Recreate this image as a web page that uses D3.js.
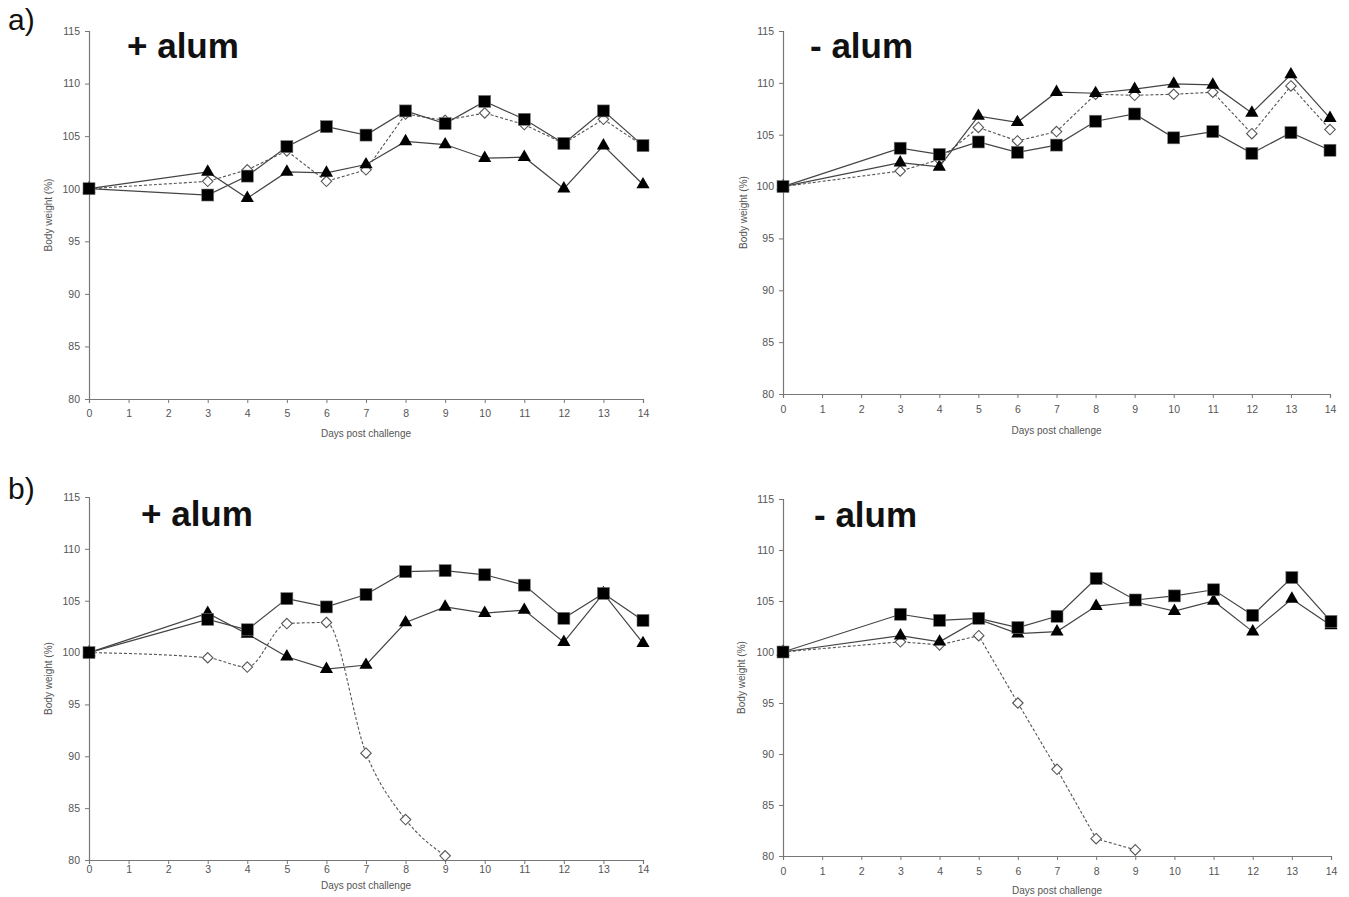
<!DOCTYPE html>
<html><head><meta charset="utf-8">
<script src="https://cdn.jsdelivr.net/npm/d3@7"></script>
<style>
body{margin:0;background:#fff;}
svg{display:block;}
.tick text{font-family:"Liberation Sans Narrow","Liberation Sans",Arial,sans-serif;font-size:10.5px;fill:#555;}
.tick line,.domain{stroke:#777;}
</style></head><body>
<svg id="c" width="1349" height="897"></svg>
<script>
const days = [0,3,4,5,6,7,8,9,10,11,12,13,14];
const daysShort = [0,3,4,5,6,7,8,9];
const xTicks = [0,1,2,3,4,5,6,7,8,9,10,11,12,13,14];
const yTicks = [80,85,90,95,100,105,110,115];

// a) + alum
const aPlusSquare  = [100,99.4,101.2,104.0,105.9,105.1,107.4,106.2,108.3,106.6,104.3,107.4,104.1];
const aPlusTri     = [100,101.6,99.1,101.6,101.5,102.3,104.5,104.2,102.9,103.0,100.0,104.1,100.4];
const aPlusDiamond = [100,100.7,101.8,103.6,100.7,101.8,107.1,106.5,107.2,106.1,104.3,106.6,104.1];
// a) - alum
const aMinusSquare  = [100,103.7,103.1,104.3,103.3,104.0,106.3,107.0,104.7,105.3,103.2,105.2,103.5];
const aMinusTri     = [100,102.3,101.9,106.8,106.2,109.1,109.0,109.4,109.9,109.8,107.1,110.8,106.6];
const aMinusDiamond = [100,101.5,102.6,105.7,104.4,105.3,108.9,108.8,108.9,109.1,105.1,109.7,105.5];
// b) + alum
const bPlusSquare  = [100,103.2,102.2,105.2,104.4,105.6,107.8,107.9,107.5,106.5,103.3,105.7,103.1];
const bPlusTri     = [100,103.8,101.8,99.6,98.4,98.8,102.9,104.4,103.8,104.1,101.0,105.7,100.9];
const bPlusDiamond = [100,99.5,98.6,102.8,102.9,90.3,83.9,80.4];
// b) - alum
const bMinusSquare  = [100,103.7,103.1,103.3,102.4,103.5,107.2,105.1,105.5,106.1,103.6,107.3,103.0];
const bMinusTri     = [100,101.6,101.0,103.2,101.8,102.0,104.5,104.9,104.0,105.0,102.0,105.2,102.6];
const bMinusDiamond = [100,101.0,100.7,101.6,95.0,88.5,81.7,80.6];

const panelTitles = ["+ alum","- alum","+ alum","- alum"];
const rowLabels = ["a)","b)"];

const svg = d3.select("#c");

const panels = [
  {x0:89,x1:643,yT:31,yB:399,pad:7,title:panelTitles[0],tx:127,ty:58,ylx:52,xly:437,
   sq:aPlusSquare,tr:aPlusTri,di:aPlusDiamond,diDays:days,smooth:false},
  {x0:783,x1:1330,yT:31,yB:394,pad:8,title:panelTitles[1],tx:810,ty:58,ylx:747,xly:434,
   sq:aMinusSquare,tr:aMinusTri,di:aMinusDiamond,diDays:days,smooth:false},
  {x0:89,x1:643,yT:497,yB:860,pad:2,title:panelTitles[2],tx:141,ty:526,ylx:52,xly:889,
   sq:bPlusSquare,tr:bPlusTri,di:bPlusDiamond,diDays:daysShort,smooth:true},
  {x0:783,x1:1331,yT:499,yB:856,pad:8,title:panelTitles[3],tx:814,ty:527,ylx:745,xly:894,
   sq:bMinusSquare,tr:bMinusTri,di:bMinusDiamond,diDays:daysShort,smooth:false}
];

svg.append("text").attr("x",8).attr("y",30).attr("font-family","Liberation Sans,Arial,sans-serif")
  .attr("font-size",30).attr("fill","#111").text(rowLabels[0]);
svg.append("text").attr("x",8).attr("y",499).attr("font-family","Liberation Sans,Arial,sans-serif")
  .attr("font-size",30).attr("fill","#111").text(rowLabels[1]);

panels.forEach(p=>{
  const x = d3.scaleLinear().domain([0,14]).range([p.x0,p.x1]);
  const y = d3.scaleLinear().domain([80,115]).range([p.yB,p.yT]);
  const g = svg.append("g");
  g.append("g").attr("transform",`translate(0,${p.yB})`)
    .call(d3.axisBottom(x).tickValues(xTicks).tickSize(4).tickPadding(p.pad).tickFormat(d3.format("d")));
  g.append("g").attr("transform",`translate(${p.x0},0)`)
    .call(d3.axisLeft(y).tickValues(yTicks).tickSize(4).tickPadding(5).tickFormat(d3.format("d")));
  g.selectAll(".domain").attr("stroke","#777").attr("stroke-width",1.2);

  g.append("text").attr("transform",`translate(${p.ylx},${(p.yT+p.yB)/2}) rotate(-90)`)
    .attr("text-anchor","middle").attr("font-family","Liberation Sans,Arial,sans-serif")
    .attr("font-size",10).attr("fill","#555").text("Body weight (%)");
  g.append("text").attr("x",(p.x0+p.x1)/2).attr("y",p.xly).attr("text-anchor","middle")
    .attr("font-family","Liberation Sans,Arial,sans-serif").attr("font-size",10).attr("fill","#555")
    .text("Days post challenge");
  g.append("text").attr("x",p.tx).attr("y",p.ty).attr("font-family","Liberation Sans,Arial,sans-serif")
    .attr("font-weight","bold").attr("font-size",35).attr("fill","#111").text(p.title);

  const line = d3.line().x(d=>x(d[0])).y(d=>y(d[1]));
  const sqD = days.map((d,i)=>[d,p.sq[i]]);
  const trD = days.map((d,i)=>[d,p.tr[i]]);
  const diD = p.diDays.map((d,i)=>[d,p.di[i]]);
  const diLine = d3.line().x(d=>x(d[0])).y(d=>y(d[1])).curve(p.smooth?d3.curveMonotoneX:d3.curveLinear);

  g.append("path").attr("d",diLine(diD)).attr("fill","none").attr("stroke","#555")
    .attr("stroke-width",1.1).attr("stroke-dasharray","3,2");
  g.append("path").attr("d",line(trD)).attr("fill","none").attr("stroke","#444").attr("stroke-width",1.2);
  g.append("path").attr("d",line(sqD)).attr("fill","none").attr("stroke","#444").attr("stroke-width",1.2);

  g.selectAll(".di").data(diD).enter().append("path")
    .attr("d",d3.symbol(d3.symbolDiamond2,70)())
    .attr("transform",d=>`translate(${x(d[0])},${y(d[1])})`)
    .attr("fill","#fff").attr("stroke","#555").attr("stroke-width",1.1);
  g.selectAll(".tr").data(trD).enter().append("path")
    .attr("d",d3.symbol(d3.symbolTriangle,75)())
    .attr("transform",d=>`translate(${x(d[0])},${y(d[1])})`)
    .attr("fill","#000");
  g.selectAll(".sq").data(sqD).enter().append("rect")
    .attr("x",d=>x(d[0])-6).attr("y",d=>y(d[1])-6).attr("width",12).attr("height",12)
    .attr("fill","#000").attr("stroke","#777").attr("stroke-width",0.6);
});
</script>
</body></html>
